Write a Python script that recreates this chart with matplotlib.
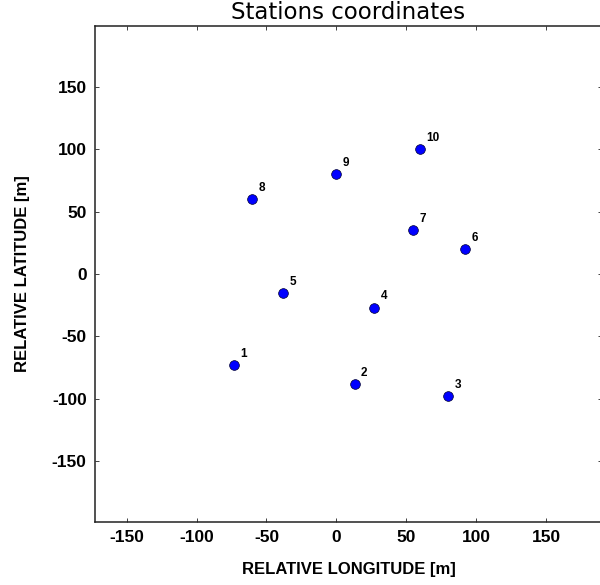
import matplotlib
matplotlib.use('Agg')
import matplotlib.pyplot as plt

plt.rcParams['axes.unicode_minus'] = False

# station coordinates (relative, metres)
station_ids = ['1', '2', '3', '4', '5', '6', '7', '8', '9', '10']
lon = [-73, 13, 80, 27, -38, 92, 55, -60, 0, 60]
lat = [-73, -88, -98, -27, -15, 20, 35, 60, 80, 100]

x_ticks = [-150, -100, -50, 0, 50, 100, 150]
y_ticks = [-150, -100, -50, 0, 50, 100, 150]

bold_font = dict(family=['Liberation Sans', 'DejaVu Sans'], weight='bold')

fig = plt.figure(figsize=(6.0, 5.85), dpi=100)
# axes runs slightly past the right edge, as in the reference
ax = fig.add_axes([95 / 600., 1 - 521.7 / 585., (602 - 95) / 600.,
                   (521.7 - 25.7) / 585.])

ax.plot(lon, lat, 'o', color='blue', markersize=7, markeredgecolor='#000033',
        markeredgewidth=0.5, linestyle='none')
for s_id, x, y in zip(station_ids, lon, lat):
    ax.annotate(s_id, (x, y), xytext=(4.5, 6), textcoords='offset points',
                fontsize=8.5, **bold_font)

ax.set_xlim(-172.6, 189.9)
ax.set_ylim(-198.5, 199.2)
ax.set_xticks(x_ticks)
ax.set_yticks(y_ticks)
ax.tick_params(direction='in', length=3, width=0.6, top=True, right=True,
               pad=6, colors='#222222')
for lbl in ax.get_xticklabels() + ax.get_yticklabels():
    lbl.set_fontfamily(['Liberation Sans', 'DejaVu Sans'])
    lbl.set_fontweight('bold')
    lbl.set_fontsize(12.5)
    lbl.set_color('black')
for sp in ax.spines.values():
    sp.set_linewidth(1.1)
    sp.set_color('#222222')

ax.set_xlabel('RELATIVE LONGITUDE [m]', fontsize=12, labelpad=12, **bold_font)
ax.set_ylabel('RELATIVE LATITUDE [m]', fontsize=12, labelpad=16, **bold_font)
ax.set_title('Stations coordinates', fontsize=16.5, pad=5,
             family='DejaVu Sans')

fig.savefig('out.png', dpi=100)
